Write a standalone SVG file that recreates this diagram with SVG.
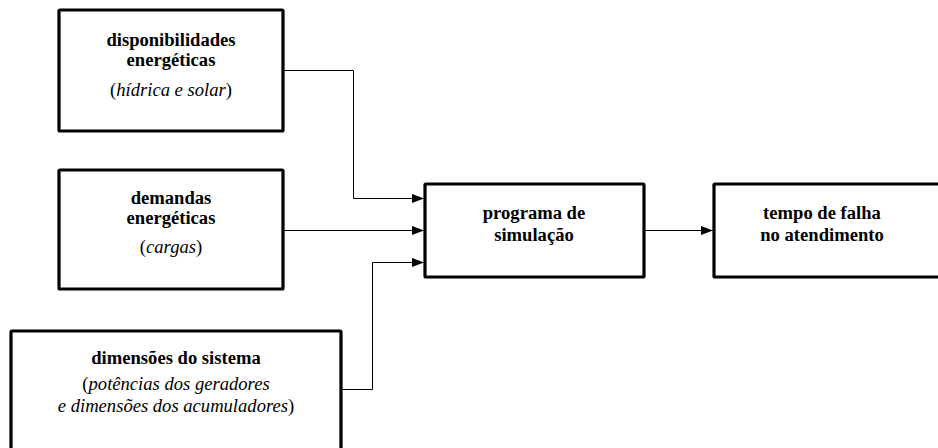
<svg xmlns="http://www.w3.org/2000/svg" width="938" height="448" viewBox="0 0 938 448">
  <style>
    .box { fill: #fff; stroke: #000; stroke-width: 3.2; }
    .t { font-family: "Liberation Serif", "Times New Roman", serif; font-size: 18.6px; fill: #000; text-anchor: middle; }
    .b { font-weight: bold; }
    .i { font-style: italic; }
    .wire { fill: none; stroke: #000; stroke-width: 1; }
  </style>
  <defs>
    <marker id="arrow" viewBox="0 0 12 9" refX="12" refY="4.5" markerWidth="12" markerHeight="9" markerUnits="userSpaceOnUse" orient="auto">
      <path d="M0,0 L12,4.5 L0,9 Z" fill="#000"/>
    </marker>
  </defs>

  <!-- connectors -->
  <g id="connectors">
    <polyline class="wire" points="283,70.5 353.5,70.5 353.5,198.5 424,198.5" marker-end="url(#arrow)"/>
    <line class="wire" x1="283" y1="230.5" x2="424" y2="230.5" marker-end="url(#arrow)"/>
    <polyline class="wire" points="341,389.5 372.5,389.5 372.5,262.5 424,262.5" marker-end="url(#arrow)"/>
    <line class="wire" x1="644" y1="230.5" x2="713" y2="230.5" marker-end="url(#arrow)"/>
  </g>

  <g id="disponibilidades">
    <rect class="box" x="59" y="10" width="224" height="121" rx="1"/>
    <text class="t b" x="171" y="46">disponibilidades</text>
    <text class="t b" x="171" y="66">energéticas</text>
    <text class="t" x="171" y="96">(<tspan class="i">hídrica e solar</tspan>)</text>
  </g>

  <g id="demandas">
    <rect class="box" x="59" y="170" width="224" height="119" rx="1"/>
    <text class="t b" x="171" y="204">demandas</text>
    <text class="t b" x="171" y="224">energéticas</text>
    <text class="t" x="171" y="253">(<tspan class="i">cargas</tspan>)</text>
  </g>

  <g id="dimensoes">
    <rect class="box" x="11" y="331" width="330" height="130" rx="1"/>
    <text class="t b" x="176" y="364">dimensões do sistema</text>
    <text class="t" x="176" y="390">(<tspan class="i">potências dos geradores</tspan></text>
    <text class="t" x="176" y="412"><tspan class="i">e dimensões dos acumuladores</tspan>)</text>
  </g>

  <g id="programa">
    <rect class="box" x="425" y="184" width="219" height="93" rx="1"/>
    <text class="t b" x="534" y="219">programa de</text>
    <text class="t b" x="534" y="241">simulação</text>
  </g>

  <g id="tempo">
    <rect class="box" x="714" y="184" width="240" height="93" rx="1"/>
    <text class="t b" x="822" y="219">tempo de falha</text>
    <text class="t b" x="822" y="241">no atendimento</text>
  </g>
</svg>
